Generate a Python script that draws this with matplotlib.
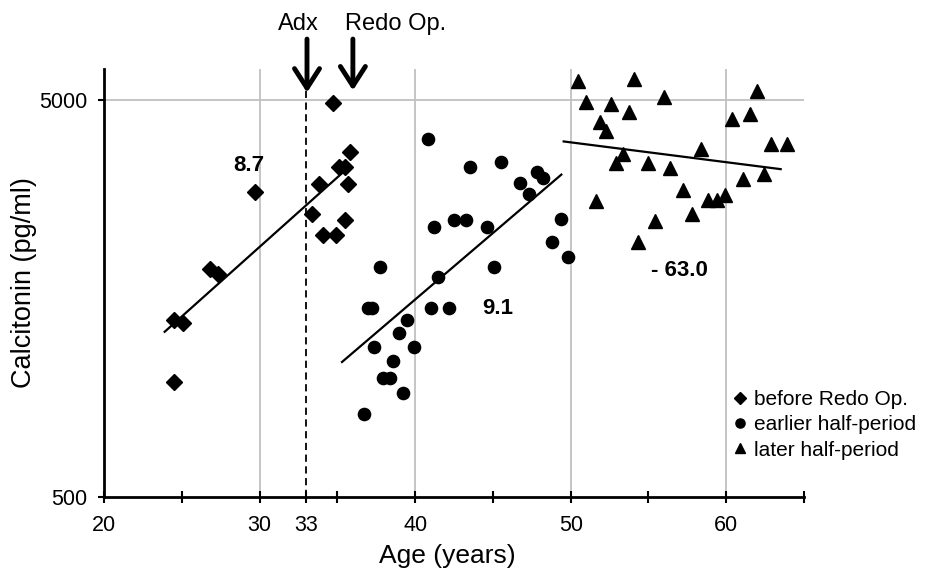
import numpy as np
import matplotlib
matplotlib.use("Agg")
import matplotlib.pyplot as plt
from matplotlib.ticker import FixedLocator, FixedFormatter, NullLocator

plt.rcParams['font.family'] = ['Liberation Sans', 'DejaVu Sans']

# before Redo Op. (diamonds)
pre_age = [34.7, 35.8, 35.1, 35.5, 33.8, 35.7, 29.7, 33.4, 35.5, 34.1, 34.9,
           26.8, 27.3, 24.5, 25.1, 24.5]
pre_ct = [4920, 3700, 3400, 3400, 3085, 3085, 2940, 2590, 2490, 2290, 2290,
          1880, 1830, 1395, 1375, 975]

# earlier half-period (circles)
early_age = [40.8, 43.55, 45.5, 47.85, 48.25, 46.75, 47.35, 41.2, 42.5, 43.25,
             44.6, 49.35, 48.8, 49.85, 37.75, 45.1, 41.5, 36.95, 37.25, 41.0,
             42.2, 39.5, 38.95, 37.35, 39.9, 38.6, 37.95, 38.4, 39.2, 36.7]
early_ct = [4005, 3400, 3495, 3300, 3195, 3095, 2900, 2400, 2495, 2495,
            2400, 2505, 2200, 2010, 1900, 1900, 1795, 1495, 1495, 1495,
            1495, 1395, 1295, 1195, 1195, 1100, 1000, 1000, 915, 810]

# later half-period (triangles)
late_age = [50.5, 54.05, 51.0, 52.6, 56.0, 62.0, 53.75, 51.9, 52.3, 60.35,
            61.5, 58.35, 53.35, 52.9, 55.0, 56.4, 62.85, 63.9, 62.4, 61.1,
            57.25, 58.85, 59.4, 59.9, 51.6, 57.8, 55.45, 54.35]
late_ct = [5590, 5670, 4950, 4905, 5095, 5275, 4670, 4410, 4185, 4480,
           4610, 3775, 3670, 3475, 3475, 3385, 3890, 3890, 3270, 3175,
           2980, 2800, 2800, 2880, 2790, 2590, 2480, 2200]

# exponential trend lines (end points)
pre_trend_age, pre_trend_ct = [23.9, 35.5], [1305, 3330]
early_trend_age, early_trend_ct = [35.3, 49.4], [1095, 3250]
late_trend_age, late_trend_ct = [49.55, 63.5], [3940, 3355]

x_ticks = [20, 25, 30, 33, 35, 40, 45, 50, 55, 60, 65]
x_labels = ['20', '', '30', '33', '', '40', '', '50', '', '60', '']
y_ticks = [500, 5000]

fig = plt.figure(figsize=(9.31, 5.78), dpi=100)
ax = fig.add_axes([0.1117, 0.1401, 0.7519, 0.7405])

ax.set_yscale('log')
ax.set_xlim(20, 65)
ax.set_ylim(500, 6000)

for g in [30, 40, 50, 60]:
    ax.axvline(g, color='#c0c0c0', lw=1.3, zorder=0)
ax.axhline(5000, color='#c0c0c0', lw=1.3, zorder=0)
ax.axvline(33, color='black', lw=1.3, ls=(0, (4, 2.5)), zorder=1)

ax.plot(pre_age, pre_ct, 'D', color='black', ms=8.5, label='before Redo Op.', zorder=3)
ax.plot(early_age, early_ct, 'o', color='black', ms=8.8, label='earlier half-period', zorder=3)
ax.plot(late_age, late_ct, '^', color='black', ms=9.5, label='later half-period', zorder=3)

for tx, ty in [(pre_trend_age, pre_trend_ct), (early_trend_age, early_trend_ct),
               (late_trend_age, late_trend_ct)]:
    ax.plot(tx, ty, color='black', lw=1.6, zorder=2)

ax.text(29.3, 3430, '8.7', fontsize=16, fontweight='bold', ha='center', va='center')
ax.text(45.3, 1490, '9.1', fontsize=16, fontweight='bold', ha='center', va='center')
ax.text(57.0, 1866, '- 63.0', fontsize=16, fontweight='bold', ha='center', va='center')

arrow = dict(arrowstyle='->,head_length=0.7,head_width=0.45', lw=3.5,
             color='black', mutation_scale=20, shrinkA=0, shrinkB=0)
ax.annotate('', xy=(33.05, 0.945), xycoords=('data', 'axes fraction'),
            xytext=(33.05, 1.07), textcoords=('data', 'axes fraction'),
            arrowprops=arrow, annotation_clip=False)
ax.annotate('', xy=(36.0, 0.95), xycoords=('data', 'axes fraction'),
            xytext=(36.0, 1.07), textcoords=('data', 'axes fraction'),
            arrowprops=arrow, annotation_clip=False)
ax.text(32.5, 1.105, 'Adx', fontsize=17, ha='center', va='center',
        transform=ax.get_xaxis_transform())
ax.text(35.5, 1.105, 'Redo Op.', fontsize=17, ha='left', va='center',
        transform=ax.get_xaxis_transform())

ax.xaxis.set_major_locator(FixedLocator(x_ticks))
ax.xaxis.set_major_formatter(FixedFormatter(x_labels))
ax.yaxis.set_major_locator(FixedLocator(y_ticks))
ax.yaxis.set_major_formatter(FixedFormatter([str(v) for v in y_ticks]))
ax.yaxis.set_minor_locator(NullLocator())

ax.tick_params(axis='x', direction='inout', length=8, width=1.5, labelsize=15.5, pad=9)
ax.tick_params(axis='y', direction='out', length=4, width=1.5, labelsize=15.5, pad=8)

for s in ['top', 'right']:
    ax.spines[s].set_visible(False)
for s in ['left', 'bottom']:
    ax.spines[s].set_linewidth(2)

ax.set_xlabel('Age (years)', fontsize=19)
ax.xaxis.set_label_coords(0.49, -0.11)
ax.set_ylabel('Calcitonin (pg/ml)', fontsize=19.5)
ax.yaxis.set_label_coords(-0.095, 0.5)

ax.legend(loc='lower left', bbox_to_anchor=(0.788, 0.205), bbox_transform=fig.transFigure,
          frameon=False, fontsize=15, markerscale=0.75, handlelength=0.6,
          handletextpad=0.4, labelspacing=0.3, borderaxespad=0, borderpad=0)

fig.savefig('out.png', dpi=100)
